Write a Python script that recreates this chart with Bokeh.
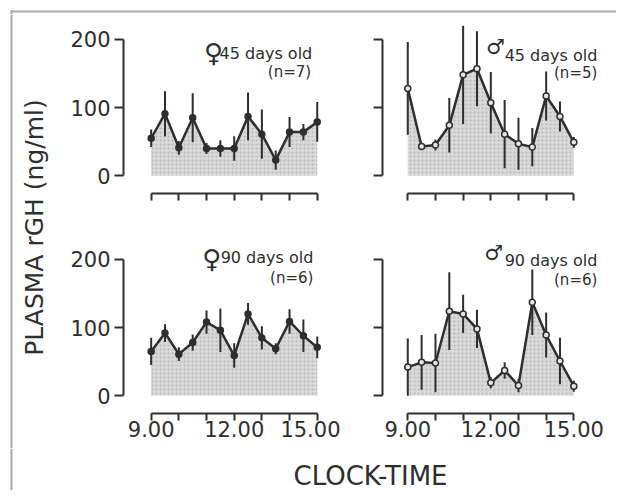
from bokeh.plotting import figure
from bokeh.layouts import row, column
from bokeh.models import Range1d, FixedTicker, Span, Label, ColumnDataSource, BoxAnnotation
from bokeh.embed import file_html
from bokeh.resources import INLINE
import math

# ---- data ----
times = [9.0, 9.5, 10.0, 10.5, 11.0, 11.5, 12.0, 12.5, 13.0, 13.5, 14.0, 14.5, 15.0]

f45_mean = [55, 91, 41, 85, 40, 40, 40, 87, 61, 23, 64, 64, 79]
f45_sem = [13, 33, 10, 36, 8, 12, 18, 35, 36, 14, 22, 12, 29]

m45_mean = [128, 43, 45, 74, 148, 157, 107, 61, 47, 42, 117, 87, 49]
m45_sem = [68, 5, 8, 40, 72, 55, 45, 50, 38, 28, 36, 22, 8]

f90_mean = [65, 92, 61, 78, 108, 96, 59, 120, 85, 69, 109, 88, 71]
f90_sem = [20, 13, 10, 12, 17, 32, 18, 16, 17, 8, 18, 24, 16]

m90_mean = [42, 49, 48, 124, 120, 98, 19, 37, 15, 137, 89, 51, 14]
m90_sem = [42, 40, 43, 57, 28, 28, 8, 12, 10, 48, 33, 34, 8]

x_labelled_ticks = [9, 12, 15]
x_other_ticks = [10, 11, 13, 14]
x_all_ticks = [9, 10, 11, 12, 13, 14, 15]
x_tick_labels = {9: "9.00", 12: "12.00", 15: "15.00"}
y_ticks = [0, 100, 200]

panel_titles = ["45 days old", "45 days old", "90 days old", "90 days old"]
panel_n = ["(n=7)", "(n=5)", "(n=6)", "(n=6)"]
panel_sex = ["\u2640", "\u2642", "\u2640", "\u2642"]

FONT = "DejaVu Sans"
INK = "#2e2e2e"
BORDER = "#a9a9a9"


def style_axis(ax, tick_len):
    ax.major_tick_in = 0
    ax.major_tick_out = tick_len
    ax.major_tick_line_width = 2
    ax.major_tick_line_color = INK
    ax.minor_tick_in = 0
    ax.minor_tick_out = tick_len
    ax.minor_tick_line_width = 2
    ax.minor_tick_line_color = INK
    ax.axis_line_width = 2
    ax.axis_line_color = INK
    ax.major_label_text_font = FONT
    ax.major_label_text_color = INK
    ax.major_label_text_font_size = "21px"


def panel(mean, sem, is_left, is_bottom, female, title, ntext, sex,
          title_pos, n_pos, sex_pos):
    w = 282 if is_left else 276
    h = 213 if is_bottom else 221
    xr = Range1d(8.0, 15.66) if is_left else Range1d(8.086, 16.47)
    p = figure(width=w, height=h, x_range=xr, y_range=Range1d(-26, 235),
               output_backend="svg", toolbar_location=None, title=None,
               min_border_left=65 if is_left else 42,
               min_border_right=5 if is_left else 2,
               min_border_top=0 if is_bottom else 1,
               min_border_bottom=35 if is_bottom else 42)
    p.outline_line_color = None
    p.grid.visible = False
    p.background_fill_color = "white"
    p.border_fill_color = "white"

    lower = [m - s for m, s in zip(mean, sem)]
    upper = [m + s for m, s in zip(mean, sem)]
    src = ColumnDataSource(dict(x=times, y=mean, lower=lower, upper=upper))

    p.varea(x="x", y1=0, y2="y", source=src, fill_color="#d9d9d9",
            hatch_pattern="dot", hatch_color="#b8b8b8", hatch_scale=4,
            hatch_weight=1)
    p.segment(x0="x", y0="lower", x1="x", y1="upper", source=src,
              line_color=INK, line_width=2)
    p.line(x="x", y="y", source=src, line_color=INK, line_width=2.5)
    p.scatter(x="x", y="y", source=src, marker="circle", size=6,
              fill_color=INK if female else "#e6e6e6", line_color=INK,
              line_width=1.5)

    # x axis: detached bracket with ticks at every hour
    xa = p.xaxis[0]
    style_axis(xa, 7)
    xa.bounds = (9, 15)
    xa.major_label_standoff = 0
    if is_bottom:
        xa.ticker = FixedTicker(ticks=x_labelled_ticks, minor_ticks=x_other_ticks)
        xa.major_label_overrides = x_tick_labels
    else:
        xa.ticker = FixedTicker(ticks=[], minor_ticks=x_all_ticks)

    # y axis: bracket 0..200
    ya = p.yaxis[0]
    style_axis(ya, 9)
    ya.bounds = (0, 200)
    ya.major_label_standoff = 4
    ya.major_label_orientation = "horizontal"
    if is_left:
        ya.ticker = FixedTicker(ticks=y_ticks, minor_ticks=[])
    else:
        ya.ticker = FixedTicker(ticks=[], minor_ticks=y_ticks)

    p.add_layout(Label(x=title_pos[0], y=title_pos[1], text=title,
                       text_align="right", text_baseline="alphabetic",
                       text_font=FONT, text_font_size="16px", text_color=INK))
    p.add_layout(Label(x=n_pos[0], y=n_pos[1], text=ntext,
                       text_align="right", text_baseline="alphabetic",
                       text_font=FONT, text_font_size="15px", text_color=INK))
    p.add_layout(Label(x=sex_pos[0], y=sex_pos[1], text=sex,
                       text_align="center", text_baseline="middle",
                       text_font=FONT, text_font_size="26px" if female else "21px",
                       text_color=INK))
    return p


tl = panel(f45_mean, f45_sem, True, False, True, panel_titles[0], panel_n[0],
           panel_sex[0], (14.82, 179), (14.78, 152), (11.25, 180))
tr = panel(m45_mean, m45_sem, False, False, False, panel_titles[1], panel_n[1],
           panel_sex[1], (15.85, 176), (15.85, 150), (12.17, 189))
bl = panel(f90_mean, f90_sem, True, True, True, panel_titles[2], panel_n[2],
           panel_sex[2], (14.86, 203), (14.86, 173), (11.19, 201))
br = panel(m90_mean, m90_sem, False, True, False, panel_titles[3], panel_n[3],
           panel_sex[3], (15.85, 198), (15.85, 170), (12.10, 210))


def strip(w, h):
    s = figure(width=w, height=h, x_range=Range1d(0, w), y_range=Range1d(0, h),
               output_backend="svg", toolbar_location=None, title=None,
               min_border=0, min_border_left=0, min_border_right=0,
               min_border_top=0, min_border_bottom=0)
    s.axis.visible = False
    s.grid.visible = False
    s.outline_line_color = None
    s.background_fill_color = "white"
    s.border_fill_color = "white"
    return s


# outer frame of the scanned figure (top and left edges)
top = strip(616, 14)
top.add_layout(BoxAnnotation(left=10, right=616, bottom=2, top=4, fill_color=BORDER,
                             fill_alpha=1, line_color=None))
top.add_layout(BoxAnnotation(left=10, right=12, bottom=0, top=4, fill_color=BORDER,
                             fill_alpha=1, line_color=None))

left = strip(58, 434)
left.add_layout(Span(location=11, dimension="height", line_color=BORDER, line_width=2))
left.add_layout(Label(x=34, y=221, text="PLASMA rGH (ng/ml)", angle=math.pi / 2,
                      text_align="center", text_baseline="middle",
                      text_font=FONT, text_font_size="25px", text_color=INK))

bottom = strip(616, 42)
bottom.add_layout(Span(location=11, dimension="height", line_color=BORDER, line_width=2))
bottom.add_layout(Label(x=370, y=15, text="CLOCK-TIME",
                        text_align="center", text_baseline="middle",
                        text_font=FONT, text_font_size="26px", text_color=INK))

grid = column(row(tl, tr), row(bl, br))
layout = column(top, row(left, grid), bottom)

open("out.html", "w").write(file_html(layout, INLINE))
